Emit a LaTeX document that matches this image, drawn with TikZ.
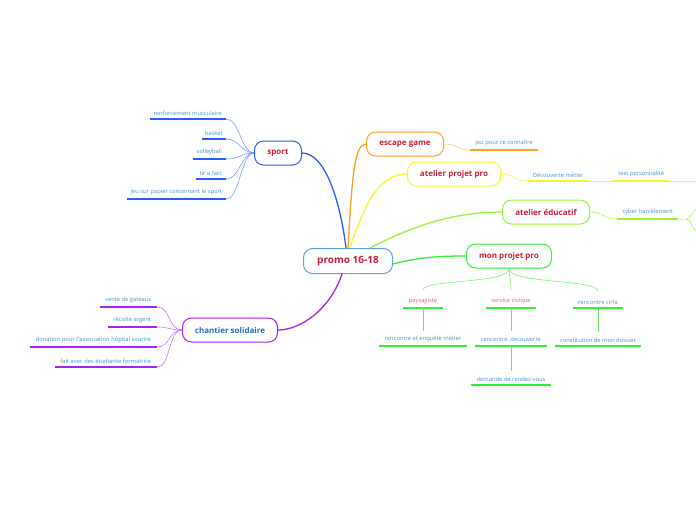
\documentclass[tikz,border=0pt]{standalone}
\usepackage{fontspec}
\setmainfont{Open Sans}
\definecolor{redtxt}{HTML}{C8203C}
\definecolor{pinktxt}{HTML}{E0607C}
\definecolor{leaftxt}{HTML}{4A90C8}
\definecolor{chtxt}{HTML}{1F6FB0}
\definecolor{cpromo}{HTML}{5BA3D9}
\definecolor{csport}{HTML}{2A5CFF}
\definecolor{cescape}{HTML}{FFA020}
\definecolor{cpro}{HTML}{F5F530}
\definecolor{cedu}{HTML}{99F533}
\definecolor{cmpp}{HTML}{33EE33}
\definecolor{cchant}{HTML}{AA22EE}
\begin{document}
\begin{tikzpicture}[x=1pt,y=-1pt,
  branch/.style={draw=#1, line width=1pt, rounded corners=9pt, fill=white,
    minimum height=24pt, inner xsep=4pt, text=redtxt,
    font=\bfseries\fontsize{8}{9}\selectfont},
  leaf/.style={inner xsep=2pt, inner ysep=3.5pt, text=leaftxt,
    font=\fontsize{5.8}{7}\selectfont},
  ul/.style={draw=#1, line width=1.6pt},
  con/.style={draw=#1, line width=0.5pt},
  mainc/.style={draw=#1, line width=1.3pt},
]
\useasboundingbox (0,0) rectangle (696,520);

% ---- main nodes
\node[branch=cpromo, minimum width=89pt, minimum height=25pt,
      font=\bfseries\fontsize{10}{11}\selectfont] (promo) at (348,261) {promo 16-18};
\node[branch=csport, minimum width=47pt] (sport) at (278,153) {sport};
\node[branch=cescape, minimum width=77pt] (escape) at (405,144) {escape game};
\node[branch=cpro, minimum width=93pt] (app) at (454,174) {atelier projet pro};
\node[branch=cedu, minimum width=87pt] (edu) at (546,212) {atelier éducatif};
\node[branch=cmpp, minimum width=85pt] (mpp) at (509,256) {mon projet pro};
\node[branch=cchant, minimum width=95pt, text=chtxt] (chant) at (230,330) {chantier solidaire};

% ---- main connectors
\draw[mainc=csport] ([xshift=-2pt]promo.north) .. controls (340,200) and (325,153) .. (sport.east);
\draw[mainc=cescape] ([xshift=0pt]promo.north) .. controls (352,180) and (354,144) .. (escape.west);
\draw[mainc=cpro] ([xshift=2pt]promo.north) .. controls (366,200) and (380,174) .. (app.west);
\draw[mainc=cedu] ([xshift=22pt]promo.north) .. controls (420,222) and (460,212) .. (edu.west);
\draw[mainc=cmpp] ([yshift=-3pt]promo.east) .. controls (420,257) and (440,256) .. (mpp.west);
\draw[mainc=cchant] ([xshift=-6pt]promo.south) .. controls (330,310) and (300,330) .. (chant.east);

% ---- sport leaves
\node[leaf, anchor=south east, minimum width=76pt] (s1) at (226,119) {renforcement musculaire};
\node[leaf, anchor=south east, minimum width=24pt] (s2) at (226,139) {basket};
\node[leaf, anchor=south east, minimum width=33pt] (s3) at (226,159) {volleyball};
\node[leaf, anchor=south east, minimum width=30pt] (s4) at (226,179) {tir a l'arc};
\node[leaf, anchor=south east, minimum width=99pt] (s5) at (226,199) {jeu sur papier concernant le sport};
\foreach \n in {s1,s2,s3,s4,s5}{
  \draw[ul=csport] (\n.south west) -- (\n.south east);
  \draw[con=csport!70] (\n.south east) .. controls ([xshift=14pt]\n.south east) and (241,153) .. (sport.west);
}

% ---- escape game leaf
\node[leaf, anchor=south west, minimum width=68pt] (e1) at (470,150) {jeu pour ce connaître};
\draw[ul=cescape] (e1.south west) -- (e1.south east);
\draw[con=cescape!70] (escape.east) .. controls (458,144) and (456,150) .. (e1.south west);

% ---- atelier projet pro leaves
\node[leaf, anchor=south west, minimum width=62pt] (d1) at (527,181) {Découverte métier};
\node[leaf, anchor=south west, minimum width=56pt] (d2) at (613,181) {test personnalité};
\coordinate (d3) at (696,181);
\draw[ul=cpro] (d1.south west) -- (d1.south east);
\draw[ul=cpro] (d2.south west) -- (d2.south east);
\draw[con=cpro] (app.east) .. controls (515,174) and (513,181) .. (d1.south west);
\draw[con=cpro] (d1.south east) -- (d2.south west);
\draw[con=cpro] (d2.south east) -- (d3);

% ---- atelier educatif leaf
\node[leaf, anchor=south west, minimum width=61pt] (c1) at (617,219) {cyber harcèlement};
\coordinate (c2) at (696,209);
\coordinate (c3) at (696,231);
\draw[ul=cedu] (c1.south west) -- (c1.south east);
\draw[con=cedu] (edu.east) .. controls (604,212) and (603,219) .. (c1.south west);
\draw[con=cedu] (c1.south east) -- ([xshift=8pt]c1.south east) .. controls (690,219) and (692,212) .. (c2);
\draw[con=cedu] ([xshift=8pt]c1.south east) .. controls (690,219) and (692,228) .. (c3);

% ---- mon projet pro tree
\node[leaf, anchor=south, minimum width=40pt, text=pinktxt] (p1) at (423,308) {paysagiste};
\node[leaf, anchor=south, minimum width=50pt, text=pinktxt] (p2) at (511,308) {service civique};
\node[leaf, anchor=south, minimum width=50pt] (p3) at (598,308) {rencontre cirfa};
\node[leaf, anchor=south, minimum width=88pt] (q1) at (423,346) {rencontre et enquête métier};
\node[leaf, anchor=south, minimum width=71pt] (q2) at (511,346) {rencontre, decouverte};
\node[leaf, anchor=south, minimum width=86pt] (q3) at (598,346) {constitution de mon dossier};
\node[leaf, anchor=south, minimum width=80pt] (r1) at (511,385) {demande de rendez-vous};
\foreach \n in {p1,p2,p3,q1,q2,q3,r1}{
  \draw[ul=cmpp] (\n.south west) -- (\n.south east);
}
\draw[con=cmpp!80] (mpp.south) .. controls (509,284) and (424,279) .. ([yshift=5pt]p1.north);
\draw[con=cmpp!80] (mpp.south) .. controls (510,280) and (511,282) .. ([yshift=5pt]p2.north);
\draw[con=cmpp!80] (mpp.south) .. controls (509,284) and (597,279) .. ([yshift=5pt]p3.north);
\draw[con=cmpp!80] (p1.south) -- ([yshift=2pt]q1.north);
\draw[con=cmpp!80] (p2.south) -- ([yshift=2pt]q2.north);
\draw[con=cmpp!80] (p3.south) -- ([yshift=2pt]q3.north);
\draw[con=cmpp!80] (q2.south) -- ([yshift=2pt]r1.north);

% ---- chantier solidaire leaves
\node[leaf, anchor=south east, minimum width=57pt] (h1) at (157,307) {vente de gateaux};
\node[leaf, anchor=south east, minimum width=49pt] (h2) at (157,327) {récolte argent};
\node[leaf, anchor=south east, minimum width=127pt] (h3) at (157,347) {donation pour l'{}'association hôpital sourire};
\node[leaf, anchor=south east, minimum width=102pt] (h4) at (157,367) {fait avec des étudiante formatrice};
\foreach \n in {h1,h2,h3,h4}{
  \draw[ul=cchant] (\n.south west) -- (\n.south east);
  \draw[con=cchant!70] (\n.south east) .. controls ([xshift=14pt]\n.south east) and (168,330) .. (chant.west);
}
\end{tikzpicture}
\end{document}
